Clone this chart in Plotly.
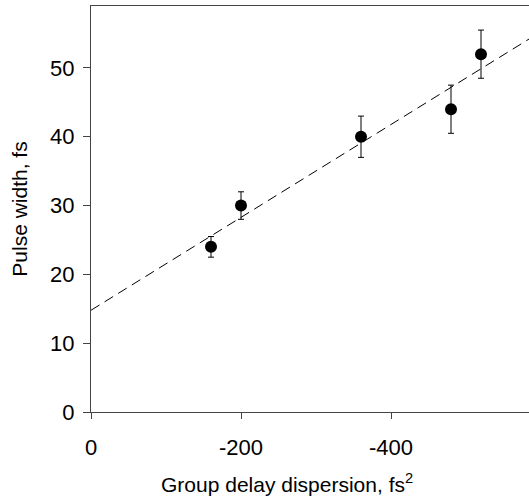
import numpy as np
import plotly.graph_objects as go

gdd = [-160, -200, -360, -480, -520]
pulse = [24, 30, 40, 44, 52]
err = [1.5, 2.0, 3.0, 3.5, 3.5]
x_ticks = [0, -200, -400]
y_ticks = [0, 10, 20, 30, 40, 50]

slope, intercept = np.polyfit(gdd, pulse, 1)
x_line = np.array([0, -600])
y_line = slope * x_line + intercept

font = "Liberation Sans, Arial, sans-serif"
fig = go.Figure()
fig.add_trace(go.Scatter(x=x_line, y=y_line, mode="lines",
                         line=dict(color="black", width=1, dash="10px,6px"),
                         showlegend=False))
fig.add_trace(go.Scatter(x=gdd, y=pulse, mode="markers",
                         marker=dict(color="black", size=12),
                         error_y=dict(type="data", array=err, color="black", thickness=1, width=3),
                         showlegend=False))
fig.add_annotation(text="Group delay dispersion, fs<sup>2</sup>", xref="paper", yref="paper",
                   x=0.4475, y=-0.176, xanchor="center", yanchor="middle", showarrow=False,
                   font=dict(family=font, size=21, color="black"))
fig.update_layout(
    width=529, height=502,
    margin=dict(l=91, r=0, t=6, b=90),
    plot_bgcolor="white", paper_bgcolor="white",
    font=dict(family=font, size=22, color="black"),
    xaxis=dict(range=[0, -584], tickvals=x_ticks, ticktext=[str(v) for v in x_ticks],
               tickfont=dict(family=font, size=22, color="black"),
               showgrid=False, zeroline=False, showline=True, linecolor="#444", linewidth=1,
               mirror=True, ticks="outside", ticklen=6, tickcolor="#444",
               ticklabelstandoff=10),
    yaxis=dict(range=[0, 59], tickvals=y_ticks,
               tickfont=dict(family=font, size=22, color="black"),
               showgrid=False, zeroline=False, showline=True, linecolor="#444", linewidth=1,
               mirror=False, ticks="outside", ticklen=7, tickcolor="#444",
               ticklabelstandoff=4,
               title=dict(text="Pulse width, fs",
                          font=dict(family=font, size=21, color="black"), standoff=16)),
)
fig.write_html("out.html")
